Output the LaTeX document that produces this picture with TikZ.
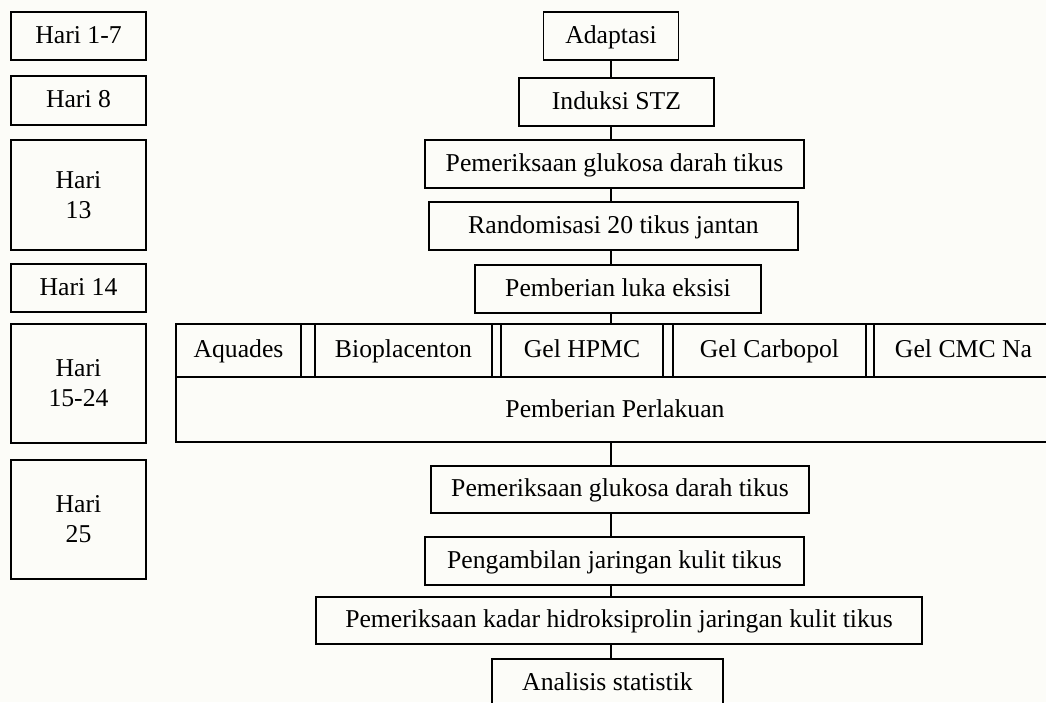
\documentclass[tikz,border=0pt]{standalone}
\usepackage{fontspec}
\setmainfont{Liberation Serif}
\definecolor{paper}{RGB}{252,252,248}
\begin{document}
\begin{tikzpicture}[x=1pt,y=-1pt,
  every node/.style={font=\fontsize{25.7}{30}\selectfont},
  box/.style={draw=black, line width=1.7pt, rectangle, inner sep=0pt, align=center},
  one/.style={text height=17pt, text depth=3pt},
  link/.style={draw=black, line width=1.7pt}]
\fill[paper] (0,0) rectangle (1046,702);
\clip (0,0) rectangle (1046,702);

% day column
\node[box, one, minimum width=135pt, minimum height=48pt]  (h1) at (78.5,36)    {Hari 1-7};
\node[box, one, minimum width=135pt, minimum height=49pt]  (h2) at (78.5,100.5) {Hari 8};
\node[box, minimum width=135pt, minimum height=110pt] (h3) at (78.5,195)   {Hari\\13};
\node[box, one, minimum width=135pt, minimum height=48pt]  (h4) at (78.5,288)   {Hari 14};
\node[box, minimum width=135pt, minimum height=119pt] (h5) at (78.5,383.5) {Hari\\15-24};
\node[box, minimum width=135pt, minimum height=119pt] (h6) at (78.5,519.5) {Hari\\25};

% main flow
\node[box, one, minimum width=135pt, minimum height=48pt] (a) at (611,36)  {Adaptasi};
\node[box, one, minimum width=195pt, minimum height=48pt] (b) at (616.5,102) {Induksi STZ};
\node[box, one, minimum width=379pt, minimum height=48pt] (c) at (614.5,164) {Pemeriksaan glukosa darah tikus};
\node[box, one, minimum width=369pt, minimum height=48pt] (d) at (613.5,226) {Randomisasi 20 tikus jantan};
\node[box, one, minimum width=286pt, minimum height=48pt] (e) at (618,289)   {Pemberian luka eksisi};

% treatment block
\node[box, minimum width=884pt, minimum height=118pt] (blk) at (618,383) {};
\draw[link] (blk.west |- 0,377) -- (blk.east |- 0,377);
\node[box, one, minimum width=125pt, minimum height=53pt] (t1) at (238.5,350.5) {Aquades};
\node[box, one, minimum width=177pt, minimum height=53pt] (t2) at (403.5,350.5) {Bioplacenton};
\node[box, one, minimum width=162pt, minimum height=53pt] (t3) at (582,350.5)   {Gel HPMC};
\node[box, one, minimum width=193pt, minimum height=53pt] (t4) at (769.5,350.5) {Gel Carbopol};
\node[box, one, minimum width=179pt, minimum height=53pt] (t5) at (963.5,350.5) {Gel CMC Na};
\node[one, inner sep=0pt] (per) at (615,410) {Pemberian Perlakuan};

\node[box, one, minimum width=378pt, minimum height=47pt] (f) at (620,489.5)   {Pemeriksaan glukosa darah tikus};
\node[box, one, minimum width=379pt, minimum height=48pt] (g) at (614.5,561)   {Pengambilan jaringan kulit tikus};
\node[box, one, minimum width=606pt, minimum height=47pt] (h) at (619,620.5)   {Pemeriksaan kadar hidroksiprolin jaringan kulit tikus};
\node[box, one, minimum width=231pt, minimum height=48pt] (i) at (607.5,683)   {Analisis statistik};

% connectors on the common axis
\draw[link] (a.south) -- (b.north -| a.south);
\draw[link] (b.south -| a.south) -- (c.north -| a.south);
\draw[link] (c.south -| a.south) -- (d.north -| a.south);
\draw[link] (d.south -| a.south) -- (e.north -| a.south);
\draw[link] (e.south -| a.south) -- (blk.north -| a.south);
\draw[link] (blk.south -| a.south) -- (f.north -| a.south);
\draw[link] (f.south -| a.south) -- (g.north -| a.south);
\draw[link] (g.south -| a.south) -- (h.north -| a.south);
\draw[link] (h.south -| a.south) -- (i.north -| a.south);
\end{tikzpicture}
\end{document}
